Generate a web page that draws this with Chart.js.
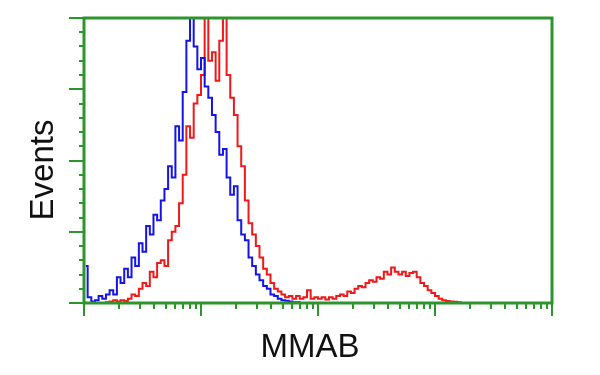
<!DOCTYPE html>
<html>
<head>
<meta charset="utf-8">
<script src="https://cdn.jsdelivr.net/npm/chart.js@4.4.0/dist/chart.umd.min.js"></script>
<style>
  html, body { margin: 0; padding: 0; background: #fff; }
  #wrap { width: 600px; height: 375px; }
</style>
</head>
<body>
<div id="wrap"><canvas id="histChart" width="600" height="375"></canvas></div>
<script>
// 128 log channels over 4 decades
const binCount = 128;
const binsPerDecade = 32;

// counts per channel (0..100 = full scale)
const blueCounts = [13, 2, 0.5, 1, 2.5, 1.5, 3, 4.5, 3, 9, 7, 12, 9, 16, 13, 21, 18, 27, 24, 31,
  29, 36, 40, 48, 44, 62, 57, 74, 92, 104, 90, 82, 86, 76, 72, 66, 60, 52, 54, 44,
  38, 41, 29, 24, 22, 16, 13, 10, 8, 6, 5, 3, 2.5, 1.5, 1, 0.8, 0.5, 0.3, 0.3, 0];
const redCounts = [0, 0, 0, 0, 0, 0, 0.3, 0.5, 1, 0.5, 1, 0.7, 1.5, 3, 2.5, 5, 7, 6, 11, 9,
  14, 15, 13, 22, 25, 27, 35, 45, 62, 58, 70, 73, 80, 104, 85, 88, 78, 92, 104, 80,
  72, 66, 55, 48, 36, 28, 24, 20, 16, 12, 10, 7, 5, 4, 3, 2, 2.5, 1.5, 2.5, 1.5,
  2, 4.5, 1.5, 2, 1.5, 2, 1.2, 2, 1.5, 2.5, 3, 2.5, 4, 3.5, 5, 6, 5.5, 7, 8, 7.5,
  9, 8.5, 11, 10, 12.5, 11, 10, 11, 9.5, 10.5, 11, 9, 7, 6, 4.5, 3.5, 2.5, 1.5, 1, 0.7,
  0.5, 0.4, 0.3, 0];

const decades = [0, 1, 2, 3];
const minorSteps = [1, 2, 3, 4, 5, 6, 7, 8, 9];
const yMax = 100;
const yMajorStep = 25;
const yMinorStep = 5;
const xTitle = 'MMAB';
const yTitle = 'Events';

const green = '#2c962c';

const toPoints = counts => counts.map((v, i) => ({ x: i + 0.5, y: v }));

// green frame, tick marks and axis titles
const flowAxes = {
  id: 'flowAxes',
  afterDatasetsDraw(chart) {
    const { ctx, chartArea: a, scales: { x, y } } = chart;
    ctx.save();
    ctx.strokeStyle = green;
    const seg = (x1, y1, x2, y2) => {
      ctx.beginPath();
      ctx.moveTo(x1, y1);
      ctx.lineTo(x2, y2);
      ctx.stroke();
    };

    ctx.lineWidth = 2;
    for (let v = 0; v <= yMax; v += yMinorStep) {
      const py = Math.round(y.getPixelForValue(v));
      const len = v % yMajorStep === 0 ? 15 : 5;
      seg(a.left - len, py, a.left, py);
    }
    decades.forEach(d => {
      minorSteps.forEach(k => {
        const px = Math.round(x.getPixelForValue((d + Math.log10(k)) * binsPerDecade));
        seg(px, a.bottom, px, a.bottom + (k === 1 ? 13 : 6));
      });
    });
    const pxEnd = Math.round(x.getPixelForValue(binCount));
    seg(pxEnd, a.bottom, pxEnd, a.bottom + 13);

    ctx.lineWidth = 3;
    ctx.strokeRect(a.left, a.top, a.right - a.left, a.bottom - a.top);

    ctx.fillStyle = '#111';
    ctx.font = '33px "Liberation Sans", Arial, sans-serif';
    ctx.textAlign = 'center';
    ctx.textBaseline = 'alphabetic';
    ctx.fillText(xTitle, 310, 357);
    ctx.translate(53, 170);
    ctx.rotate(-Math.PI / 2);
    ctx.fillText(yTitle, 0, 0);
    ctx.restore();
  }
};

new Chart(document.getElementById('histChart'), {
  type: 'line',
  data: {
    datasets: [
      { label: 'sample', data: toPoints(blueCounts), borderColor: '#1414e6' },
      { label: 'control', data: toPoints(redCounts), borderColor: '#f01818' }
    ]
  },
  options: {
    responsive: false,
    animation: false,
    layout: { padding: { left: 84, right: 48, top: 18, bottom: 72 } },
    elements: {
      line: { borderWidth: 2, stepped: 'middle', fill: false, tension: 0 },
      point: { radius: 0 }
    },
    scales: {
      x: { type: 'linear', min: 0, max: binCount, display: false },
      y: { min: 0, max: yMax, display: false }
    },
    plugins: { legend: { display: false }, tooltip: { enabled: false } }
  },
  plugins: [flowAxes]
});
</script>
</body>
</html>
